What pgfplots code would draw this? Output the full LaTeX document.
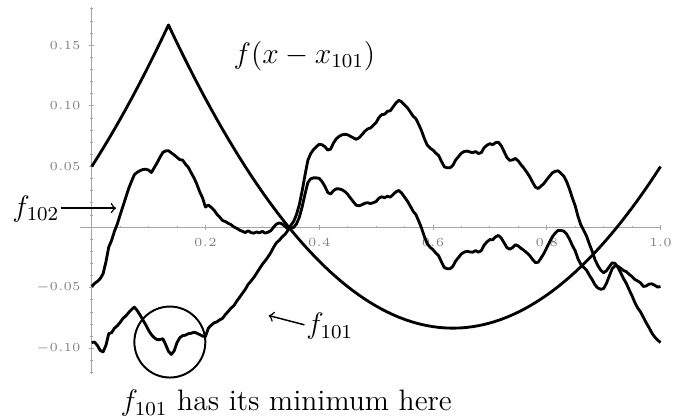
\documentclass[border=0pt]{standalone}
\usepackage{pgfplots}
\usepackage{pgfplotstable}
\pgfplotsset{compat=1.18}

% x, f_101(x), f_102(x), f(x - x_101)
\pgfplotstableread{
x y101 y102 par
0.000 -0.0952 -0.0490 0.0499
0.005 -0.0948 -0.0465 0.0536
0.010 -0.0976 -0.0448 0.0573
0.015 -0.1017 -0.0425 0.0611
0.020 -0.1029 -0.0385 0.0649
0.025 -0.0976 -0.0288 0.0688
0.030 -0.0879 -0.0165 0.0727
0.035 -0.0871 -0.0110 0.0767
0.040 -0.0834 -0.0035 0.0807
0.045 -0.0814 0.0025 0.0848
0.050 -0.0786 0.0100 0.0889
0.055 -0.0753 0.0172 0.0931
0.060 -0.0733 0.0245 0.0973
0.065 -0.0705 0.0318 0.1016
0.070 -0.0680 0.0377 0.1059
0.075 -0.0660 0.0432 0.1103
0.080 -0.0688 0.0452 0.1147
0.085 -0.0725 0.0465 0.1192
0.090 -0.0765 0.0475 0.1237
0.095 -0.0806 0.0477 0.1283
0.100 -0.0851 0.0470 0.1329
0.105 -0.0887 0.0450 0.1376
0.110 -0.0912 0.0490 0.1423
0.115 -0.0928 0.0530 0.1471
0.120 -0.0928 0.0575 0.1519
0.125 -0.0920 0.0615 0.1568
0.130 -0.0968 0.0628 0.1617
0.135 -0.1025 0.0630 0.1667
0.140 -0.1050 0.0612 0.1617
0.145 -0.1021 0.0595 0.1568
0.150 -0.0952 0.0575 0.1519
0.155 -0.0912 0.0556 0.1471
0.160 -0.0895 0.0552 0.1423
0.165 -0.0891 0.0518 0.1376
0.170 -0.0879 0.0492 0.1329
0.175 -0.0875 0.0447 0.1283
0.180 -0.0867 0.0405 0.1237
0.185 -0.0875 0.0352 0.1192
0.190 -0.0887 0.0290 0.1147
0.195 -0.0899 0.0240 0.1103
0.200 -0.0903 0.0165 0.1059
0.205 -0.0834 0.0182 0.1016
0.210 -0.0810 0.0163 0.0973
0.215 -0.0790 0.0141 0.0931
0.220 -0.0782 0.0107 0.0889
0.225 -0.0765 0.0083 0.0848
0.230 -0.0753 0.0054 0.0807
0.235 -0.0721 0.0046 0.0767
0.240 -0.0696 0.0031 0.0727
0.245 -0.0668 0.0020 0.0688
0.250 -0.0648 0.0001 0.0649
0.255 -0.0611 -0.0010 0.0611
0.260 -0.0579 -0.0025 0.0573
0.265 -0.0546 -0.0035 0.0536
0.270 -0.0514 -0.0045 0.0499
0.275 -0.0473 -0.0030 0.0463
0.280 -0.0445 -0.0045 0.0427
0.285 -0.0416 -0.0050 0.0392
0.290 -0.0380 -0.0040 0.0357
0.295 -0.0343 -0.0048 0.0323
0.300 -0.0307 -0.0035 0.0289
0.305 -0.0278 -0.0050 0.0256
0.310 -0.0246 -0.0042 0.0223
0.315 -0.0209 -0.0030 0.0191
0.320 -0.0165 0.0000 0.0159
0.325 -0.0128 0.0025 0.0128
0.330 -0.0108 0.0035 0.0097
0.335 -0.0080 0.0025 0.0067
0.340 -0.0059 0.0005 0.0037
0.345 -0.0027 -0.0015 0.0008
0.350 0.0014 -0.0010 -0.0021
0.355 0.0046 -0.0003 -0.0049
0.360 0.0103 0.0026 -0.0077
0.365 0.0184 0.0080 -0.0104
0.370 0.0298 0.0167 -0.0131
0.375 0.0428 0.0271 -0.0157
0.380 0.0550 0.0367 -0.0183
0.385 0.0606 0.0398 -0.0208
0.390 0.0639 0.0406 -0.0233
0.395 0.0663 0.0406 -0.0257
0.400 0.0683 0.0402 -0.0281
0.405 0.0679 0.0375 -0.0304
0.410 0.0663 0.0336 -0.0327
0.415 0.0635 0.0286 -0.0349
0.420 0.0643 0.0272 -0.0371
0.425 0.0692 0.0300 -0.0392
0.430 0.0728 0.0315 -0.0413
0.435 0.0748 0.0315 -0.0433
0.440 0.0761 0.0308 -0.0453
0.445 0.0765 0.0293 -0.0472
0.450 0.0761 0.0270 -0.0491
0.455 0.0748 0.0239 -0.0509
0.460 0.0736 0.0209 -0.0527
0.465 0.0724 0.0180 -0.0544
0.470 0.0736 0.0175 -0.0561
0.475 0.0761 0.0184 -0.0577
0.480 0.0789 0.0196 -0.0593
0.485 0.0809 0.0201 -0.0608
0.490 0.0817 0.0194 -0.0623
0.495 0.0838 0.0201 -0.0637
0.500 0.0862 0.0211 -0.0651
0.505 0.0903 0.0239 -0.0664
0.510 0.0927 0.0250 -0.0677
0.515 0.0931 0.0242 -0.0689
0.520 0.0955 0.0254 -0.0701
0.525 0.0959 0.0247 -0.0712
0.530 0.0992 0.0269 -0.0723
0.535 0.1024 0.0291 -0.0733
0.540 0.1045 0.0302 -0.0743
0.545 0.1032 0.0280 -0.0752
0.550 0.1008 0.0247 -0.0761
0.555 0.0984 0.0215 -0.0769
0.560 0.0951 0.0174 -0.0777
0.565 0.0915 0.0131 -0.0784
0.570 0.0894 0.0103 -0.0791
0.575 0.0846 0.0049 -0.0797
0.580 0.0793 -0.0010 -0.0803
0.585 0.0728 -0.0080 -0.0808
0.590 0.0675 -0.0138 -0.0813
0.595 0.0651 -0.0166 -0.0817
0.600 0.0635 -0.0186 -0.0821
0.605 0.0610 -0.0214 -0.0824
0.610 0.0590 -0.0237 -0.0827
0.615 0.0541 -0.0288 -0.0829
0.620 0.0497 -0.0334 -0.0831
0.625 0.0489 -0.0343 -0.0832
0.630 0.0489 -0.0344 -0.0833
0.635 0.0509 -0.0324 -0.0833
0.640 0.0554 -0.0279 -0.0833
0.645 0.0582 -0.0250 -0.0832
0.650 0.0610 -0.0221 -0.0831
0.655 0.0623 -0.0206 -0.0829
0.660 0.0627 -0.0200 -0.0827
0.665 0.0619 -0.0205 -0.0824
0.670 0.0614 -0.0207 -0.0821
0.675 0.0623 -0.0194 -0.0817
0.680 0.0606 -0.0207 -0.0813
0.685 0.0614 -0.0194 -0.0808
0.690 0.0655 -0.0148 -0.0803
0.695 0.0675 -0.0122 -0.0797
0.700 0.0688 -0.0103 -0.0791
0.705 0.0679 -0.0105 -0.0784
0.710 0.0696 -0.0081 -0.0777
0.715 0.0700 -0.0069 -0.0769
0.720 0.0671 -0.0090 -0.0761
0.725 0.0623 -0.0129 -0.0752
0.730 0.0574 -0.0169 -0.0743
0.735 0.0550 -0.0183 -0.0733
0.740 0.0554 -0.0169 -0.0723
0.745 0.0566 -0.0146 -0.0712
0.750 0.0545 -0.0156 -0.0701
0.755 0.0513 -0.0176 -0.0689
0.760 0.0485 -0.0192 -0.0677
0.765 0.0452 -0.0212 -0.0664
0.770 0.0416 -0.0235 -0.0651
0.775 0.0371 -0.0266 -0.0637
0.780 0.0330 -0.0293 -0.0623
0.785 0.0318 -0.0290 -0.0608
0.790 0.0338 -0.0255 -0.0593
0.795 0.0359 -0.0218 -0.0577
0.800 0.0391 -0.0170 -0.0561
0.805 0.0420 -0.0124 -0.0544
0.810 0.0448 -0.0079 -0.0527
0.815 0.0460 -0.0049 -0.0509
0.820 0.0464 -0.0027 -0.0491
0.825 0.0444 -0.0028 -0.0472
0.830 0.0420 -0.0033 -0.0453
0.835 0.0375 -0.0058 -0.0433
0.840 0.0314 -0.0099 -0.0413
0.845 0.0241 -0.0151 -0.0392
0.850 0.0176 -0.0195 -0.0371
0.855 0.0087 -0.0262 -0.0349
0.860 0.0018 -0.0309 -0.0327
0.865 -0.0027 -0.0331 -0.0304
0.870 -0.0075 -0.0356 -0.0281
0.875 -0.0140 -0.0397 -0.0257
0.880 -0.0201 -0.0434 -0.0233
0.885 -0.0270 -0.0478 -0.0208
0.890 -0.0319 -0.0502 -0.0183
0.895 -0.0356 -0.0513 -0.0157
0.900 -0.0376 -0.0507 -0.0131
0.905 -0.0360 -0.0464 -0.0104
0.910 -0.0327 -0.0404 -0.0077
0.915 -0.0295 -0.0344 -0.0049
0.920 -0.0299 -0.0320 -0.0021
0.925 -0.0331 -0.0323 0.0008
0.930 -0.0376 -0.0339 0.0037
0.935 -0.0425 -0.0358 0.0067
0.940 -0.0465 -0.0368 0.0097
0.945 -0.0518 -0.0390 0.0128
0.950 -0.0567 -0.0408 0.0159
0.955 -0.0623 -0.0432 0.0191
0.960 -0.0668 -0.0445 0.0223
0.965 -0.0700 -0.0460 0.0256
0.970 -0.0745 -0.0490 0.0289
0.975 -0.0790 -0.0485 0.0323
0.980 -0.0830 -0.0470 0.0357
0.985 -0.0875 -0.0468 0.0392
0.990 -0.0907 -0.0480 0.0427
0.995 -0.0932 -0.0495 0.0463
1.000 -0.0952 -0.0490 0.0499
}\curves

\begin{document}
\begin{tikzpicture}
\begin{axis}[
  scale only axis,
  width=235.6pt, height=148.8pt,
  xmin=-0.0208, xmax=1.0,
  ymin=-0.1212, ymax=0.1812,
  axis lines=middle,
  axis line style={-, draw=gray!70, line width=0.35pt},
  clip=false,
  xtick={0.2,0.4,0.6,0.8,1.0},
  minor xtick={0.05,0.1,0.15,0.25,0.3,0.35,0.45,0.5,0.55,0.65,0.7,0.75,0.85,0.9,0.95},
  ytick={-0.1,-0.05,0.05,0.1,0.15},
  minor ytick={-0.12,-0.11,-0.09,-0.08,-0.07,-0.06,-0.04,-0.03,-0.02,-0.01,
               0.01,0.02,0.03,0.04,0.06,0.07,0.08,0.09,0.11,0.12,0.13,0.14,0.16,0.17,0.18},
  tick style={draw=gray!70, line width=0.3pt},
  major tick length=2pt,
  minor tick length=1.1pt,
  tick label style={font=\fontsize{2.2}{2.6}\selectfont, text=gray},
  xticklabel style={/pgf/number format/fixed, /pgf/number format/fixed zerofill,
                    /pgf/number format/precision=1},
  yticklabel style={/pgf/number format/fixed, /pgf/number format/fixed zerofill,
                    /pgf/number format/precision=2},
]
% corners of the page
\coordinate (pagenw) at (axis cs:-0.1612,0.18726);
\coordinate (pagese) at (axis cs:1.022,-0.15852);

\addplot[black, line width=1.15pt, line join=round] table[x=x, y=par] {\curves};
\addplot[black, line width=1.15pt, line join=round] table[x=x, y=y101] {\curves};
\addplot[black, line width=1.15pt, line join=round] table[x=x, y=y102] {\curves};

\node[font=\large] at (axis cs:0.374,0.141) {$f(x-x_{101})$};
\node[font=\large] at (axis cs:-0.098,0.0150) {$f_{102}$};
\draw[->, line width=0.6pt] (axis cs:-0.054,0.0156) -- (axis cs:0.043,0.0156);
\draw[->, line width=0.6pt] (axis cs:0.374,-0.0806) -- (axis cs:0.311,-0.0729);
\node[font=\large] at (axis cs:0.4185,-0.0818) {$f_{101}$};
\draw[line width=0.8pt] (axis cs:0.1374,-0.0948) circle[radius=14.4pt];
\node[font=\large] at (axis cs:0.342,-0.1455) {$f_{101}$ has its minimum here};
\end{axis}
\pgfresetboundingbox
\path[use as bounding box] (pagenw) rectangle (pagese);
\end{tikzpicture}
\end{document}
